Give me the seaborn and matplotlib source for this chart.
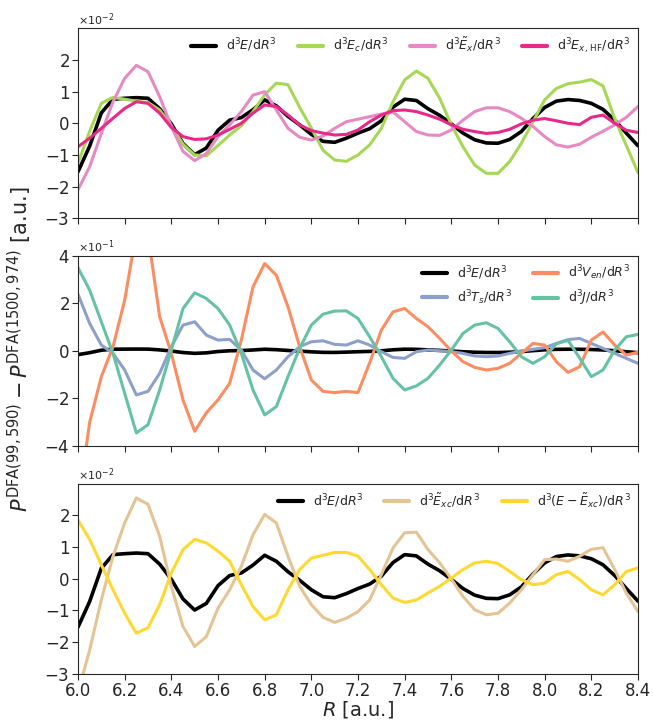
import numpy as np
import pandas as pd
import matplotlib
matplotlib.use("Agg")
import matplotlib.pyplot as plt
import seaborn as sns
from matplotlib.ticker import ScalarFormatter

# ─────────────────────────────────────────────
# DATA  (step 0.05 a.u.)
# ─────────────────────────────────────────────
R = np.linspace(6.0, 8.4, 49)

# panel 1 and 3 values are in units of 1e-2
dE = [-1.53, -0.72, 0.33, 0.76, 0.79, 0.81, 0.79, 0.46, -0.02, -0.64,
      -0.99, -0.78, -0.22, 0.10, 0.18, 0.43, 0.74, 0.55, 0.22, -0.05,
      -0.35, -0.57, -0.60, -0.47, -0.31, -0.17, 0.08, 0.51, 0.76, 0.72,
      0.46, 0.25, -0.02, -0.31, -0.52, -0.62, -0.63, -0.51, -0.26, 0.15,
      0.50, 0.70, 0.75, 0.72, 0.63, 0.44, 0.10, -0.31, -0.71]
dEc = [-1.26, -0.25, 0.63, 0.82, 0.76, 0.70, 0.66, 0.42, -0.08, -0.66,
       -1.00, -1.03, -0.70, -0.37, -0.08, 0.37, 0.90, 1.27, 1.22, 0.50,
       -0.15, -0.85, -1.16, -1.20, -1.00, -0.68, -0.16, 0.68, 1.37, 1.65,
       1.42, 0.79, -0.05, -0.74, -1.32, -1.58, -1.58, -1.21, -0.63, 0.05,
       0.74, 1.10, 1.25, 1.30, 1.38, 1.18, 0.15, -0.70, -1.56]
dEx = [-2.10, -1.37, -0.32, 0.68, 1.42, 1.83, 1.63, 0.84, -0.10, -0.89,
       -1.18, -0.95, -0.42, -0.05, 0.37, 0.89, 1.00, 0.42, -0.16, -0.44,
       -0.53, -0.40, -0.16, 0.05, 0.13, 0.21, 0.29, 0.36, 0.05, -0.26,
       -0.37, -0.38, -0.21, 0.10, 0.37, 0.49, 0.49, 0.37, 0.16, -0.10,
       -0.42, -0.68, -0.75, -0.66, -0.44, -0.25, -0.05, 0.19, 0.53]
dExHF = [-0.74, -0.47, -0.16, 0.16, 0.47, 0.68, 0.63, 0.32, -0.13, -0.42,
         -0.51, -0.49, -0.37, -0.19, 0.00, 0.32, 0.58, 0.53, 0.26, -0.05,
         -0.23, -0.31, -0.37, -0.35, -0.21, 0.05, 0.26, 0.40, 0.42, 0.37,
         0.26, 0.13, -0.05, -0.19, -0.26, -0.32, -0.29, -0.19, -0.02, 0.10,
         0.15, 0.08, 0.00, -0.04, 0.19, 0.26, 0.00, -0.22, -0.29]

# panel 2 values are in units of 1e-1
dVen = [-6.5, -3.00, -1.08, 0.18, 2.14, 5.00, 4.90, 1.44, -0.10, -2.06,
        -3.38, -2.60, -2.06, -1.36, 0.46, 2.70, 3.68, 3.19, 1.86, 0.18,
        -1.22, -1.70, -1.75, -1.70, -1.75, -0.50, 0.88, 1.65, 1.79, 1.37,
        1.02, 0.53, 0.00, -0.45, -0.69, -0.80, -0.73, -0.52, -0.10, 0.32,
        0.25, -0.45, -0.90, -0.66, 0.46, 0.80, 0.25, -0.17, -0.05]
dTs = [2.39, 1.16, 0.25, -0.10, -0.80, -1.85, -1.70, -0.94, 0.18, 1.09,
       1.23, 0.67, 0.46, 0.49, 0.04, -0.80, -1.17, -0.80, -0.24, 0.18,
       0.39, 0.43, 0.28, 0.25, 0.43, 0.25, -0.03, -0.27, -0.31, -0.03,
       0.04, 0.01, -0.03, -0.10, -0.21, -0.24, -0.21, -0.10, 0.00, 0.07,
       0.14, 0.32, 0.48, 0.53, 0.32, 0.11, -0.10, -0.31, -0.52]
dJ = [3.51, 2.56, 1.23, -0.10, -1.78, -3.45, -3.10, -1.64, 0.04, 1.79,
      2.45, 2.21, 1.79, 1.09, -0.10, -1.64, -2.69, -2.34, -1.08, 0.11,
      1.09, 1.55, 1.68, 1.69, 1.37, 0.60, -0.24, -1.15, -1.64, -1.47,
      -1.15, -0.59, 0.04, 0.74, 1.09, 1.19, 0.95, 0.39, -0.24, -0.52,
      -0.24, 0.30, 0.45, -0.30, -1.08, -0.80, 0.04, 0.60, 0.70]

dExc = [-3.60, -2.25, -0.67, 0.71, 1.76, 2.55, 2.35, 1.34, -0.24, -1.51,
        -2.14, -1.83, -0.93, -0.35, 0.39, 1.39, 2.03, 1.76, 0.71, -0.24,
        -0.82, -1.22, -1.38, -1.25, -1.04, -0.67, 0.13, 0.97, 1.45, 1.47,
        0.92, 0.50, -0.01, -0.56, -0.98, -1.14, -1.09, -0.77, -0.35, 0.13,
        0.60, 0.62, 0.55, 0.71, 0.93, 0.98, 0.29, -0.46, -1.04]
dEmExc = [1.85, 1.24, 0.44, -0.35, -1.09, -1.72, -1.55, -0.82, 0.18, 0.92,
          1.24, 1.13, 0.87, 0.55, -0.19, -0.88, -1.30, -1.14, -0.35, 0.29,
          0.65, 0.74, 0.83, 0.83, 0.71, 0.29, -0.19, -0.61, -0.75, -0.67,
          -0.45, -0.24, 0.02, 0.29, 0.50, 0.55, 0.48, 0.23, -0.03, -0.19,
          -0.14, 0.13, 0.23, -0.03, -0.35, -0.51, -0.19, 0.23, 0.34]

pal = sns.color_palette("Set2")
c_E = "black"
c_Ec = pal[4]       # green
c_Ex = pal[3]       # pink
c_ExHF = "#e7298a"  # magenta
c_Ven = pal[1]
c_Ts = pal[2]
c_J = pal[0]
c_Exc = pal[6]
c_EmExc = pal[5]

lbl_E = r"$\mathrm{d}^3E/\mathrm{d}R^3$"

panels = [
    dict(scale=1e-2, ylim=(-0.03, 0.03), ticks=[-0.03, -0.02, -0.01, 0, 0.01, 0.02], ncol=4,
         series=[(dE, c_E, lbl_E),
                 (dEc, c_Ec, r"$\mathrm{d}^3E_c/\mathrm{d}R^3$"),
                 (dEx, c_Ex, r"$\mathrm{d}^3\tilde{E}_x/\mathrm{d}R^3$"),
                 (dExHF, c_ExHF, r"$\mathrm{d}^3E_{x,\,\mathrm{HF}}/\mathrm{d}R^3$")]),
    dict(scale=1e-1, ylim=(-0.4, 0.4), ticks=[-0.4, -0.2, 0, 0.2, 0.4], ncol=2,
         series=[(dE, c_E, lbl_E, 1e-2),
                 (dTs, c_Ts, r"$\mathrm{d}^3T_s/\mathrm{d}R^3$"),
                 (dVen, c_Ven, r"$\mathrm{d}^3V_{en}/\mathrm{d}R^3$"),
                 (dJ, c_J, r"$\mathrm{d}^3J/\mathrm{d}R^3$")]),
    dict(scale=1e-2, ylim=(-0.03, 0.03), ticks=[-0.03, -0.02, -0.01, 0, 0.01, 0.02], ncol=3,
         series=[(dE, c_E, lbl_E),
                 (dExc, c_Exc, r"$\mathrm{d}^3\tilde{E}_{xc}/\mathrm{d}R^3$"),
                 (dEmExc, c_EmExc, r"$\mathrm{d}^3(E-\tilde{E}_{xc})/\mathrm{d}R^3$")]),
]

# ─────────────────────────────────────────────
# FIGURE
# ─────────────────────────────────────────────
sns.set_style("ticks")
plt.rcParams["font.family"] = ["DejaVu Sans"]

fig = plt.figure(figsize=(6.53, 7.21), dpi=100)
left, width, height = 78 / 653, 560 / 653, 190 / 721
bottoms = [1 - 218.3 / 721, 1 - 446 / 721, 1 - 673.7 / 721]

for i, (p, b) in enumerate(zip(panels, bottoms)):
    ax = fig.add_axes([left, b, width, height])
    for s in p["series"]:
        vals, color, label = s[0], s[1], s[2]
        sc = s[3] if len(s) > 3 else p["scale"]
        lw = 2.6 if color == "black" else 2.2
        sns.lineplot(x=R, y=np.asarray(vals) * sc, color=color, lw=lw,
                     label=label, ax=ax)
    ax.set_xlim(6.0, 8.4)
    ax.set_ylim(*p["ylim"])
    ax.set_yticks(p["ticks"])
    ax.set_xticks(np.round(np.arange(6.0, 8.41, 0.2), 1))
    fmt = ScalarFormatter(useMathText=True)
    fmt.set_powerlimits((0, 0))
    ax.yaxis.set_major_formatter(fmt)
    ax.yaxis.get_offset_text().set_fontsize(8)
    ax.tick_params(labelsize=12, length=4, pad=2)
    if i < 2:
        ax.tick_params(labelbottom=False)
    else:
        ax.set_xlabel(r"$R$ [a.u.]", fontsize=14, labelpad=-1)
    for sp in ax.spines.values():
        sp.set_visible(True)
    leg = ax.legend(loc="upper right", ncol=p["ncol"], frameon=False,
                    fontsize=9, handlelength=2.0, columnspacing=1.7,
                    borderaxespad=0.2)
    for h in leg.get_lines():
        h.set_linewidth(3)

fig.text(0.03, 0.515,
         r"$P^{\mathrm{DFA}(99,590)}-P^{\mathrm{DFA}(1500,974)}$ [a.u.]",
         rotation=90, ha="center", va="center", fontsize=15)

fig.savefig("out.png", dpi=100)
